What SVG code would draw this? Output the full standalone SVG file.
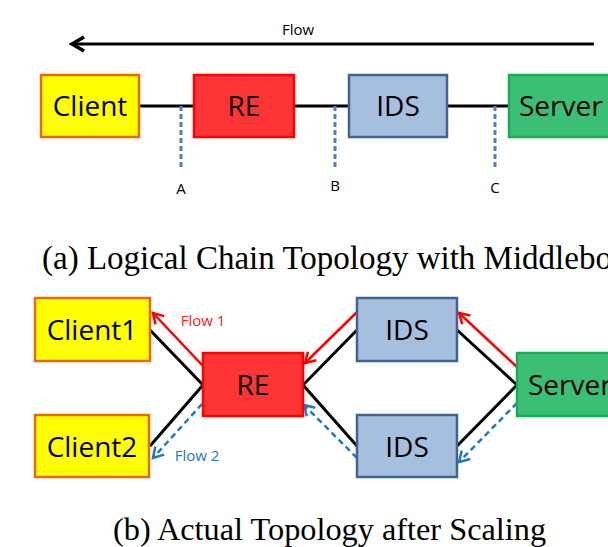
<svg xmlns="http://www.w3.org/2000/svg" width="608" height="547" viewBox="0 0 608 547">
  <style>
    .box { stroke-width: 2.5; }
    .client { fill: #FFFF00; stroke: #E46C0A; }
    .re { fill: #FF3535; stroke: #FF0000; }
    .ids { fill: #A7BFDE; stroke: #41638F; }
    .server { fill: #3BBF74; stroke: #19AD55; }
    .lbl { font-family: "Open Sans", "Liberation Sans", sans-serif; font-size: 28px; fill: #000; text-anchor: middle; }
    .lbl-start { font-family: "Open Sans", "Liberation Sans", sans-serif; font-size: 28px; fill: #000; text-anchor: start; }
    .small { font-family: "Open Sans", "Liberation Sans", sans-serif; font-size: 15px; text-anchor: middle; }
    .cap { font-family: "Liberation Serif", "Times New Roman", serif; fill: #000; }
    .link { stroke: #000; stroke-width: 3; fill: none; }
    .probe { stroke: #4F81BD; stroke-width: 3; stroke-dasharray: 5 3; fill: none; }
    .red { stroke: #FF0000; stroke-width: 2.5; fill: none; marker-end: url(#headRed); }
    .blue { stroke: #1F78C8; stroke-width: 2.5; stroke-dasharray: 6 4; fill: none; marker-end: url(#headBlue); }
  </style>
  <defs>
    <marker id="headBlack" markerUnits="userSpaceOnUse" markerWidth="20" markerHeight="20" refX="0" refY="0" orient="auto" viewBox="-14 -10 20 20" overflow="visible">
      <path d="M -12 -7 L 0 0 L -12 7" fill="none" stroke="#000" stroke-width="3.5"/>
    </marker>
    <marker id="headRed" markerUnits="userSpaceOnUse" markerWidth="20" markerHeight="20" refX="0" refY="0" orient="auto" viewBox="-14 -10 20 20" overflow="visible">
      <path d="M -10 -6 L 0 0 L -10 6" fill="none" stroke="#FF0000" stroke-width="2.5"/>
    </marker>
    <marker id="headBlue" markerUnits="userSpaceOnUse" markerWidth="20" markerHeight="20" refX="0" refY="0" orient="auto" viewBox="-14 -10 20 20" overflow="visible">
      <path d="M -10 -6 L 0 0 L -10 6" fill="none" stroke="#1F78C8" stroke-width="2.5"/>
    </marker>
  </defs>
  <rect width="608" height="547" fill="#FFFFFF"/>

  <!-- (a) logical chain -->
  <g id="flow-arrow">
    <line x1="594" y1="44" x2="72" y2="44" stroke="#000" stroke-width="3" marker-end="url(#headBlack)"/>
    <text class="small" x="298" y="35" font-size="16" fill="#000">Flow</text>
  </g>
  <g id="chain-links">
    <line class="link" x1="139" y1="106" x2="194" y2="106"/>
    <line class="link" x1="294" y1="106" x2="349" y2="106"/>
    <line class="link" x1="447" y1="106" x2="509" y2="106"/>
    <line class="probe" x1="181" y1="106" x2="181" y2="167"/>
    <line class="probe" x1="335" y1="106" x2="335" y2="167"/>
    <line class="probe" x1="495" y1="106" x2="495" y2="167"/>
    <text class="small" x="181" y="194" fill="#000">A</text>
    <text class="small" x="335" y="191" fill="#000">B</text>
    <text class="small" x="495" y="193" fill="#000">C</text>
  </g>
  <g id="a-client">
    <rect class="box client" x="41" y="75" width="98" height="62"/>
    <text class="lbl" x="90" y="116">Client</text>
  </g>
  <g id="a-re">
    <rect class="box re" x="194" y="75" width="100" height="62"/>
    <text class="lbl" x="244" y="116">RE</text>
  </g>
  <g id="a-ids">
    <rect class="box ids" x="349" y="75" width="98" height="62"/>
    <text class="lbl" x="398" y="116">IDS</text>
  </g>
  <g id="a-server">
    <rect class="box server" x="509" y="75" width="110" height="62"/>
    <text class="lbl-start" x="519" y="116">Server</text>
  </g>
  <text class="cap" x="42" y="269" font-size="33">(a) Logical Chain Topology with Middlebox</text>

  <!-- (b) scaled topology -->
  <g id="connectors">
    <line class="link" x1="150" y1="330" x2="203" y2="385"/>
    <line class="link" x1="150" y1="446" x2="203" y2="385"/>
    <line class="link" x1="303" y1="385" x2="357" y2="330"/>
    <line class="link" x1="303" y1="385" x2="357" y2="446"/>
    <line class="link" x1="457" y1="330" x2="517" y2="385"/>
    <line class="link" x1="457" y1="446" x2="517" y2="385"/>
    <line class="red" x1="203" y1="366" x2="153" y2="313"/>
    <line class="red" x1="357" y1="312" x2="305" y2="363"/>
    <line class="red" x1="517" y1="367" x2="459" y2="313"/>
    <line class="blue" x1="202" y1="404" x2="153" y2="458"/>
    <line class="blue" x1="357" y1="458" x2="304" y2="405"/>
    <line class="blue" x1="517" y1="403" x2="459" y2="462"/>
    <text class="small" x="203" y="326" fill="#FF2020">Flow 1</text>
    <text class="small" x="197" y="461" fill="#1F78C8">Flow 2</text>
  </g>
  <g id="client1">
    <rect class="box client" x="35" y="298" width="115" height="63"/>
    <text class="lbl" x="92" y="340">Client1</text>
  </g>
  <g id="client2">
    <rect class="box client" x="35" y="415" width="114" height="62"/>
    <text class="lbl" x="92" y="457">Client2</text>
  </g>
  <g id="re">
    <rect class="box re" x="203" y="353" width="100" height="63"/>
    <text class="lbl" x="253" y="395">RE</text>
  </g>
  <g id="ids1">
    <rect class="box ids" x="357" y="298" width="100" height="63"/>
    <text class="lbl" x="407" y="340">IDS</text>
  </g>
  <g id="ids2">
    <rect class="box ids" x="357" y="415" width="100" height="62"/>
    <text class="lbl" x="407" y="457">IDS</text>
  </g>
  <g id="server">
    <rect class="box server" x="517" y="353" width="110" height="63"/>
    <text class="lbl-start" x="528" y="395">Server</text>
  </g>
  <text class="cap" x="113" y="540" font-size="32.3">(b) Actual Topology after Scaling</text>
</svg>
